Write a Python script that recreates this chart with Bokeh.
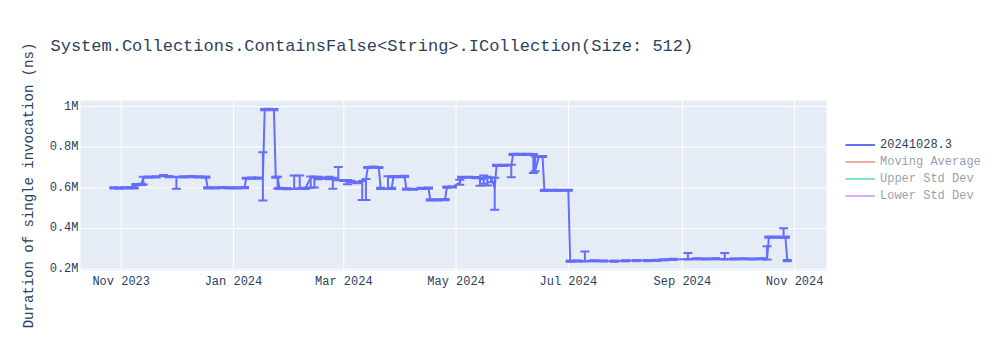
import math
import pandas as pd
from bokeh.plotting import figure
from bokeh.core.properties import value
from bokeh.models import (ColumnDataSource, Whisker, TeeHead, BoxAnnotation,
                          Range1d, Legend, LegendItem, Label, LabelSet)
from bokeh.embed import file_html
from bokeh.resources import INLINE

# ---------------- data (durations in microseconds; 1 us = 1000 ns) ----------------
dates = [
    "2023-10-28", "2023-10-31", "2023-11-03", "2023-11-06", "2023-11-08",
    "2023-11-09", "2023-11-12",
    "2023-11-13", "2023-11-16", "2023-11-20", "2023-11-24", "2023-11-27", "2023-12-01", "2023-12-05", "2023-12-09", "2023-12-13", "2023-12-17",
    "2023-12-18", "2023-12-22", "2023-12-26", "2023-12-30", "2024-01-03", "2024-01-07",
    "2024-01-08", "2024-01-11", "2024-01-14", "2024-01-17",
    "2024-01-18", "2024-01-20", "2024-01-23",
    "2024-01-24", "2024-01-25",
    "2024-01-26", "2024-01-30", "2024-02-03", "2024-02-06", "2024-02-09",
    "2024-02-12", "2024-02-14", "2024-02-16", "2024-02-19", "2024-02-22", "2024-02-24", "2024-02-27", "2024-03-01", "2024-03-03", "2024-03-05", "2024-03-08", "2024-03-11", "2024-03-13",
    "2024-03-14", "2024-03-17", "2024-03-20",
    "2024-03-21", "2024-03-25", "2024-03-27",
    "2024-03-28", "2024-04-01", "2024-04-03",
    "2024-04-04", "2024-04-08", "2024-04-12", "2024-04-16",
    "2024-04-17", "2024-04-21", "2024-04-25",
    "2024-04-26", "2024-04-29", "2024-05-03",
    "2024-05-04", "2024-05-08", "2024-05-12", "2024-05-14", "2024-05-16", "2024-05-18", "2024-05-20", "2024-05-22",
    "2024-05-23", "2024-05-27", "2024-05-31",
    "2024-06-01", "2024-06-05", "2024-06-09", "2024-06-12", "2024-06-13",
    "2024-06-15", "2024-06-17",
    "2024-06-18", "2024-06-22", "2024-06-26", "2024-07-01",
    "2024-07-02", "2024-07-06", "2024-07-10", "2024-07-15", "2024-07-20", "2024-07-26", "2024-08-01", "2024-08-07", "2024-08-13", "2024-08-18", "2024-08-22",
    "2024-08-27", "2024-09-04", "2024-09-09", "2024-09-14", "2024-09-19", "2024-09-24", "2024-09-29", "2024-10-04", "2024-10-09", "2024-10-14", "2024-10-17",
    "2024-10-18", "2024-10-22", "2024-10-26", "2024-10-27",
    "2024-10-28",
]
duration_us = [
    600, 599, 600, 601, 600,
    616, 617,
    652, 653, 654, 660, 655, 652, 654, 655, 654, 653,
    600, 600, 601, 600, 600, 601,
    647, 648, 648, 648,
    985, 986, 985,
    652, 652,
    597, 596, 597, 598, 597,
    650, 652, 645, 648, 645, 646, 640, 636, 628, 632, 625, 630, 640,
    700, 702, 700,
    597, 597, 597,
    655, 655, 656,
    594, 593, 597, 598,
    541, 541, 542,
    603, 604, 625,
    652, 652, 650, 645, 640, 652, 648, 600,
    710, 710, 710,
    764, 764, 765, 763, 685,
    754, 754,
    587, 588, 587, 588,
    239, 240, 240, 241, 240, 239, 241, 242, 242, 243, 246,
    248, 250, 251, 250, 251, 250, 250, 251, 250, 251, 250,
    357, 357, 358, 357,
    242,
]
err_minus_us = [
    3, 3, 3, 3, 3,
    3, 3,
    36, 3, 3, 3, 3, 57, 3, 3, 3, 3,
    3, 3, 3, 3, 3, 3,
    3, 3, 3, 110,
    3, 3, 3,
    3, 55,
    3, 3, 3, 3, 3,
    50, 50, 3, 3, 3, 50, 3, 3, 10, 3, 3, 90, 100,
    3, 3, 3,
    3, 3, 3,
    3, 3, 3,
    3, 3, 3, 3,
    3, 3, 3,
    3, 3, 10,
    3, 3, 3, 35, 20, 40, 20, 108,
    3, 3, 58,
    3, 3, 3, 90, 3,
    3, 3,
    3, 3, 3, 3,
    3, 3, 3, 3, 3, 3, 3, 3, 3, 3, 3,
    3, 3, 3, 3, 3, 3, 3, 3, 3, 3, 3,
    3, 3, 3, 3,
    3,
]
err_plus_us = [
    3, 3, 3, 3, 3,
    3, 3,
    3, 3, 3, 3, 3, 3, 3, 3, 3, 3,
    3, 3, 3, 3, 3, 3,
    3, 3, 3, 127,
    3, 3, 3,
    3, 3,
    3, 3, 64, 62, 3,
    6, 3, 10, 3, 10, 3, 62, 3, 10, 3, 3, 3, 3,
    3, 3, 3,
    3, 60, 3,
    3, 3, 3,
    3, 3, 3, 3,
    3, 3, 3,
    3, 3, 15,
    3, 3, 3, 3, 20, 3, 3, 50,
    3, 3, 3,
    3, 3, 3, 3, 70,
    3, 3,
    3, 3, 3, 3,
    3, 3, 47, 3, 3, 3, 3, 3, 3, 3, 3,
    3, 30, 3, 3, 3, 29, 3, 3, 3, 3, 63,
    3, 3, 43, 3,
    3,
]
assert len(dates) == len(duration_us) == len(err_minus_us) == len(err_plus_us)

series_names = ["20241028.3", "Moving Average", "Upper Std Dev", "Lower Std Dev"]
series_colors = ["#636efa", "#EF553B", "#00cc96", "#ab63fa"]

x_tick_dates = ["2023-11-01", "2024-01-01", "2024-03-01", "2024-05-01",
                "2024-07-01", "2024-09-01", "2024-11-01"]
x_tick_labels = ["Nov 2023", "Jan 2024", "Mar 2024", "May 2024",
                 "Jul 2024", "Sep 2024", "Nov 2024"]
y_ticks = [200000, 400000, 600000, 800000, 1000000]
y_tick_labels = ["0.2M", "0.4M", "0.6M", "0.8M", "1M"]

title_text = "System.Collections.ContainsFalse<String>.ICollection(Size: 512)"
y_title = "Duration of single invocation (ns)"

# ---------------- derived columns ----------------
x = pd.to_datetime(dates)
dur = pd.Series(duration_us, dtype=float) * 1000.0
lo = dur - pd.Series(err_minus_us, dtype=float) * 1000.0
hi = dur + pd.Series(err_plus_us, dtype=float) * 1000.0
mov = dur.rolling(5, min_periods=1).mean()
sd = dur.rolling(5, min_periods=1).std().fillna(0)

src = ColumnDataSource(dict(x=x, y=dur, lower=lo, upper=hi,
                            ma=mov, up=mov + sd, dn=mov - sd))

FONT = "Liberation Mono"
TXT = "#2a3f5f"
BG = "#E5ECF6"

# ---------------- geometry (canvas pixels) ----------------
W, H = 1000, 350
PX_PER_DAY = 1.84
NOV1_PX = 120.7                  # canvas x of 2023-11-01
PX_PER_NS = 203.3 / 1e6
ONE_M_PX = 106.0                 # canvas y of 1M
PLOT_L, PLOT_R, PLOT_T, PLOT_B = 80, 826, 100, 270

day0 = pd.Timestamp("2023-11-01")
def px_to_ms(px):
    return (day0 + pd.Timedelta(days=(px - NOV1_PX) / PX_PER_DAY)).value / 1e6
def py_to_val(py):
    return 1e6 + (ONE_M_PX - py) / PX_PER_NS

px0, px1 = px_to_ms(PLOT_L), px_to_ms(PLOT_R)
py0, py1 = py_to_val(PLOT_B), py_to_val(PLOT_T)

p = figure(width=W, height=H, x_axis_type="datetime",
           x_axis_location=None, y_axis_location=None,
           x_range=Range1d(px_to_ms(0), px_to_ms(W)),
           y_range=Range1d(py_to_val(H), py_to_val(0)),
           output_backend="svg", toolbar_location=None,
           min_border=0)
p.background_fill_color = "white"
p.border_fill_color = "white"
p.outline_line_color = None
p.grid.visible = False

# plot area background
p.add_layout(BoxAnnotation(left=px0, right=px1, bottom=py0, top=py1,
                           fill_color=BG, fill_alpha=1, line_color=None, level="underlay"))

# grid lines (white), limited to plot area
xt = [pd.Timestamp(d).value / 1e6 for d in x_tick_dates]
p.segment(x0=[px0] * len(y_ticks), x1=[px1] * len(y_ticks), y0=y_ticks, y1=y_ticks,
          line_color="white", line_width=1)
p.segment(x0=xt, x1=xt, y0=[py0] * len(xt), y1=[py1] * len(xt),
          line_color="white", line_width=1)

# main series
main_line = p.line("x", "y", source=src, line_color=series_colors[0], line_width=2)
p.add_layout(Whisker(base="x", lower="lower", upper="upper", source=src,
                     line_color=series_colors[0], line_width=2, level="annotation",
                     upper_head=TeeHead(size=9, line_color=series_colors[0], line_width=2),
                     lower_head=TeeHead(size=9, line_color=series_colors[0], line_width=2)))

# hidden (legend-only) series
ma_line = p.line("x", "ma", source=src, line_color=series_colors[1], line_width=2, visible=False)
up_line = p.line("x", "up", source=src, line_color=series_colors[2], line_width=2, visible=False)
dn_line = p.line("x", "dn", source=src, line_color=series_colors[3], line_width=2, visible=False)

# x tick labels
xsrc = ColumnDataSource(dict(x=xt, text=x_tick_labels))
p.add_layout(LabelSet(x="x", y=H - 281, text="text", source=xsrc,
                      x_units="data", y_units="screen",
                      text_font=value(FONT), text_font_size=value("12px"),
                      text_color=TXT, text_align="center", text_baseline="middle"))

# y tick labels
ysrc = ColumnDataSource(dict(y=y_ticks, text=y_tick_labels))
p.add_layout(LabelSet(x=PLOT_L - 2, y="y", text="text", source=ysrc,
                      x_units="screen", y_units="data",
                      text_font=value(FONT), text_font_size=value("12px"),
                      text_color=TXT, text_align="right", text_baseline="middle"))

# y axis title
p.add_layout(Label(x=28, y=H - 185, x_units="screen", y_units="screen",
                   text=y_title, angle=math.pi / 2, text_font=FONT, text_font_size="14px",
                   text_color=TXT, text_align="center", text_baseline="middle"))

# title
p.add_layout(Label(x=50, y=H - 46, x_units="screen", y_units="screen",
                   text=title_text, text_font=FONT, text_font_size="17px",
                   text_color=TXT, text_align="left", text_baseline="middle"))

# legend
legend = Legend(items=[LegendItem(label=series_names[0], renderers=[main_line]),
                       LegendItem(label=series_names[1], renderers=[ma_line]),
                       LegendItem(label=series_names[2], renderers=[up_line]),
                       LegendItem(label=series_names[3], renderers=[dn_line])],
                location=(845, H - 204), click_policy="hide",
                label_text_font=FONT, label_text_font_size="12px", label_text_color=TXT,
                glyph_width=30, glyph_height=17, label_height=17, label_standoff=5,
                spacing=0, padding=0, margin=0,
                background_fill_alpha=0, border_line_color=None,
                inactive_fill_color="white", inactive_fill_alpha=0.5)
p.add_layout(legend, "center")

open("out.html", "w").write(file_html(p, INLINE))
